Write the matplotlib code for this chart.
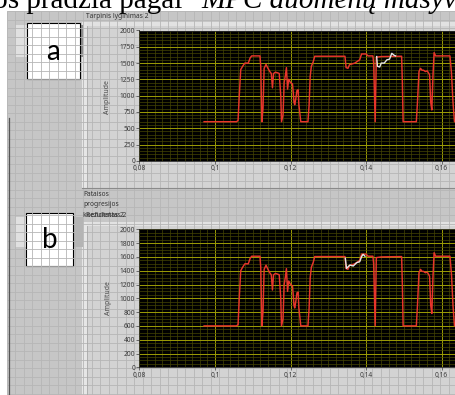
import matplotlib
matplotlib.use('Agg')
import matplotlib.pyplot as plt
from matplotlib.patches import Rectangle
from matplotlib.ticker import MultipleLocator
import numpy as np

# raudona kreive (bendra abiem grafikams): laikas, amplitude
laikas = [0.0971, 0.1057, 0.1061, 0.1064, 0.1068, 0.1073, 0.1079, 0.1088, 0.1093, 0.1097,
          0.1119, 0.1121, 0.1124, 0.1127, 0.1130, 0.1135, 0.1140, 0.1145, 0.1149, 0.1152,
          0.1155, 0.1160, 0.1166, 0.1170, 0.1174, 0.1176, 0.1180, 0.1183, 0.1186, 0.1189,
          0.1192, 0.1195, 0.1200, 0.1205, 0.1207, 0.1209, 0.1211, 0.1214, 0.1217, 0.1220,
          0.1222, 0.1227, 0.1246, 0.1249, 0.1252, 0.1255, 0.1260, 0.1264, 0.1344, 0.1347,
          0.1352, 0.1356, 0.1370, 0.1383, 0.1388, 0.1400, 0.1405, 0.1418, 0.1420, 0.1424,
          0.1427, 0.1440, 0.1494, 0.1496, 0.1498, 0.1533, 0.1536, 0.1540, 0.1544, 0.1548,
          0.1552, 0.1557, 0.1562, 0.1568, 0.1571, 0.1574, 0.1577, 0.1580, 0.1584, 0.1622,
          0.1626, 0.1630, 0.1634, 0.1640]
amplitude = [600, 600, 620, 985, 1400, 1450, 1500, 1500, 1580, 1610,
             1610, 1450, 600, 800, 1420, 1480, 1420, 1370, 1340, 1120,
             1340, 1360, 1350, 1340, 1000, 600, 700, 1200, 1300, 1430,
             1100, 1250, 1200, 1180, 1050, 900, 860, 960, 1080, 1090,
             860, 600, 600, 850, 1300, 1450, 1520, 1605, 1605, 1430,
             1420, 1475, 1500, 1550, 1640, 1640, 1610, 1610, 1500, 600,
             1590, 1600, 1605, 1200, 600, 600, 900, 1370, 1420, 1390,
             1390, 1370, 1380, 1320, 900, 780, 1300, 1660, 1610, 1610,
             1350, 900, 600, 600]

# balta atkarpa (a)
laikas_a = [0.1428, 0.1430, 0.1436, 0.1440, 0.1448, 0.1455, 0.1462, 0.1468, 0.1474, 0.1478]
balta_a = [1600, 1450, 1440, 1500, 1500, 1550, 1560, 1650, 1620, 1610]

# balta atkarpa (b)
laikas_b = [0.1345, 0.1348, 0.1357, 0.1366, 0.1375, 0.1383, 0.1388, 0.1392, 0.1397]
balta_b = [1580, 1434, 1482, 1468, 1516, 1530, 1603, 1637, 1610]

x_ticks = [0.08, 0.10, 0.12, 0.14, 0.16]
x_tick_labels = ['0,08', '0,1', '0,12', '0,14', '0,16']
y_ticks_a = [0, 250, 500, 750, 1000, 1250, 1500, 1750, 2000]
y_ticks_b = [0, 200, 400, 600, 800, 1000, 1200, 1400, 1600, 1800, 2000]

W, H = 456, 395
fig = plt.figure(figsize=(W / 100, H / 100), dpi=100)
fig.patch.set_facecolor('white')

# fonas pikseliais
bg = fig.add_axes([0, 0, 1, 1])
bg.set_xlim(0, W)
bg.set_ylim(H, 0)
bg.axis('off')

bg.add_patch(Rectangle((7, 11), W - 7, H - 11, fc='#c6c6c6', ec='none'))
bg.vlines(np.arange(7, W, 8.5), 11, H, color='#b6b6b6', lw=0.6)
bg.hlines(np.arange(11, H, 8.5), 7, W, color='#b6b6b6', lw=0.6)

# grafiku remai
for y0, h in [(22, 166), (222, 173)]:
    bg.add_patch(Rectangle((82, y0), W - 82, h, fc='#d3d3d3', ec='none'))
    bg.add_patch(Rectangle((82, y0), W - 82, 4, fc='#e2e2e2', ec='none'))
    bg.add_patch(Rectangle((82, y0), 5, h, fc='#e6e6e6', ec='none'))
    bg.plot([87, 87], [y0 + 4, y0 + h], color='#a8a8a8', lw=0.6)
bg.plot([82, W], [188, 188], color='#8a8a8a', lw=0.8)

# mygtukai ir zymekliai a / b
bg.add_patch(Rectangle((15, 25), 68, 32, fc='#e0e0e0', ec='none'))
bg.add_patch(Rectangle((80, 25), 3, 32, fc='#8c8c8c', ec='none'))
bg.add_patch(Rectangle((15, 217), 68, 30, fc='#e0e0e0', ec='none'))
bg.add_patch(Rectangle((73, 217), 10, 30, fc='#b4b4b4', ec='none'))
bg.add_patch(Rectangle((27, 23), 53, 56, fc='white', ec='black', lw=0.8))
bg.add_patch(Rectangle((26, 213), 47, 53, fc='white', ec='black', lw=0.8))
bg.text(53.5, 52, 'a', fontsize=20, family='Lato', ha='center', va='center')
bg.text(49.5, 240, 'b', fontsize=20, family='Lato', ha='center', va='center')
bg.plot([9, 9], [118, H], color='#555555', lw=0.9)

# antrastes
bg.text(-14, 7.5, 'jos pradžia pagal', fontsize=21, family='Liberation Serif',
        va='baseline', ha='left')
bg.text(201, 7.5, 'MPC duomenų masyvo', fontsize=21, family='Liberation Serif',
        style='italic', va='baseline', ha='left')
lbl = dict(fontsize=4.8, family='Noto Sans', color='#333333', va='center', ha='left')
bg.text(86, 16, 'Tarpinis lyginimas 2', **lbl)
bg.text(83, 194, 'Pataisos', **lbl)
bg.text(83, 204.5, 'progresijos', **lbl)
bg.text(83, 215.5, 'koeficientas 2', **lbl)
bg.text(86, 215.5, 'Rezultatas 2', **lbl)
bg.text(108, 97, 'Amplitude', rotation=90, fontsize=5, family='Noto Sans',
        color='#4a4a4a', ha='center', va='center')
bg.text(109, 298, 'Amplitude', rotation=90, fontsize=5, family='Noto Sans',
        color='#4a4a4a', ha='center', va='center')


def px_axes(x0, y0, x1, y1):
    return fig.add_axes([x0 / W, 1 - y1 / H, (x1 - x0) / W, (y1 - y0) / H])


def draw_graph(ax, yticks, wx, wy):
    ax.set_facecolor('black')
    ax.set_axisbelow(True)
    ax.set_xlim(0.08, 0.1638)
    ax.set_ylim(0, 2000)
    ax.set_xticks(x_ticks, x_tick_labels)
    ax.set_yticks(yticks)
    ax.xaxis.set_minor_locator(MultipleLocator(0.002))
    ax.yaxis.set_minor_locator(MultipleLocator(50))
    ax.grid(which='minor', color='#444404', lw=0.5)
    ax.grid(which='major', color='#9c9c06', lw=0.7)
    ax.tick_params(which='minor', length=0)
    ax.tick_params(which='major', length=2, width=0.6, color='#555555',
                   labelsize=4.8, labelcolor='#3a3a3a', pad=1.2)
    for lab in ax.get_xticklabels() + ax.get_yticklabels():
        lab.set_family('Noto Sans')
    for s in ax.spines.values():
        s.set_color('#2a2a2a')
        s.set_linewidth(0.6)
    ax.plot(laikas, amplitude, color='#e8352c', lw=1.05)
    ax.plot(wx, wy, color='#e6e6e6', lw=1.0)


ax_a = px_axes(139.5, 30.5, W, 160.8)
draw_graph(ax_a, y_ticks_a, laikas_a, balta_a)
ax_b = px_axes(139.5, 229.3, W, 367.3)
draw_graph(ax_b, y_ticks_b, laikas_b, balta_b)

fig.savefig('out.png', dpi=100)
